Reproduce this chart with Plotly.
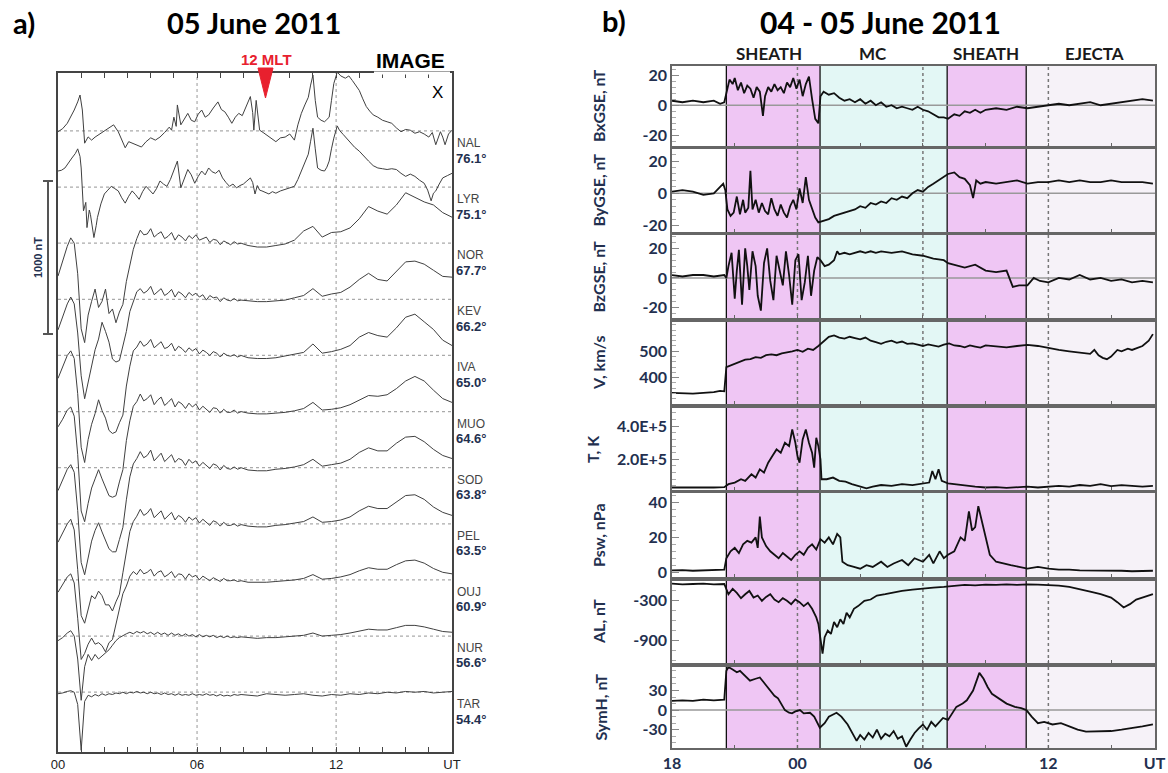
import plotly.graph_objects as go

W, H = 1168, 773
def px(x): return x / W
def py(y): return 1 - y / H

# ---------------- Panel a) data : IMAGE magnetometer X component ----------------
STATIONS = ["NAL", "LYR", "NOR", "KEV", "IVA", "MUO", "SOD", "PEL", "OUJ", "NUR", "TAR"]
LATS = ["76.1°", "75.1°", "67.7°", "66.2°", "65.0°", "64.6°", "63.8°", "63.5°", "60.9°", "56.6°", "54.4°"]
STATION_STEP_NT = 367          # vertical separation between stacked traces (nT)
A_TICKVALS = list(range(18))
A_TICKTEXT = ["00", "", "", "", "", "", "06", "", "", "", "", "", "12", "", "", "", "", "UT"]

NAL = [(0.0,-5),(0.2,15),(0.4,50),(0.55,90),(0.7,137),(0.85,190),(0.95,235),(1.05,137),(1.15,-80),(1.3,-39),
       (1.45,-60),(1.6,-40),(1.8,-20),(2.0,-5),(2.2,20),(2.4,40),(2.6,-5),(2.75,-60),(2.9,-110),(3.05,-70),
       (3.2,-80),(3.4,-95),(3.6,-105),(3.8,-70),(4.0,-45),(4.2,-60),(4.4,-40),(4.6,-10),(4.8,25),(4.9,5),
       (5.0,90),(5.1,30),(5.15,170),(5.3,40),(5.45,80),(5.6,115),(5.75,70),(5.9,60),(6.05,110),(6.2,137),
       (6.35,90),(6.5,105),(6.7,150),(6.9,190),(7.05,140),(7.2,125),(7.35,90),(7.5,50),(7.65,90),(7.8,115),
       (7.95,100),(8.1,150),(8.2,180),(8.3,225),(8.4,120),(8.45,5),(8.55,200),(8.62,120),(8.7,5),(8.85,-10),
       (9.0,-25),(9.2,-50),(9.4,-70),(9.6,-45),(9.8,-40),(10.0,-20),(10.2,-60),(10.35,40),(10.5,115),(10.65,170),
       (10.8,220),(10.9,300),(11.0,365),(11.1,200),(11.2,90),(11.35,70),(11.5,60),(11.6,75),(11.7,90),(11.8,200),
       (11.9,310),(12.05,385),(12.2,360),(12.4,345),(12.55,360),(12.7,330),(12.85,300),(13.0,265),(13.15,210),(13.3,160),
       (13.45,130),(13.6,105),(13.8,90),(14.0,70),(14.2,60),(14.4,50),(14.6,20),(14.8,-5),(15.0,10),(15.2,5),
       (15.4,-15),(15.6,-5),(15.8,-20),(16.0,-40),(16.15,-10),(16.3,-90),(16.5,-5),(16.6,-40),(16.7,-90),(16.85,-20),(17.0,5)]

LYR = [(0.0,105),(0.15,110),(0.3,125),(0.45,160),(0.6,190),(0.75,220),(0.85,250),(0.95,200),(1.0,125),(1.1,-155),
       (1.2,-100),(1.25,-265),(1.35,-150),(1.4,-180),(1.5,-280),(1.55,-330),(1.65,-250),(1.7,-200),(1.85,-110),(2.0,-45),
       (2.15,-20),(2.3,5),(2.45,-10),(2.6,-25),(2.75,-70),(2.9,-105),(3.05,-60),(3.2,-25),(3.35,-50),(3.5,-80),
       (3.65,-30),(3.8,5),(3.95,-20),(4.1,-45),(4.25,-10),(4.4,40),(4.55,20),(4.7,5),(4.85,50),(5.0,105),
       (5.15,170),(5.3,-5),(5.45,60),(5.6,115),(5.75,80),(5.9,25),(6.05,70),(6.2,105),(6.35,80),(6.5,125),
       (6.65,100),(6.8,90),(6.95,110),(7.1,60),(7.25,30),(7.4,5),(7.55,20),(7.7,-5),(7.85,10),(8.0,20),
       (8.15,40),(8.3,60),(8.4,30),(8.5,-45),(8.6,10),(8.7,-20),(8.8,-25),(8.95,-35),(9.1,-45),(9.25,-30),
       (9.4,-40),(9.6,-25),(9.8,-15),(10.0,-5),(10.2,5),(10.35,50),(10.5,105),(10.65,160),(10.8,215),(10.9,300),
       (11.0,385),(11.1,250),(11.2,125),(11.35,110),(11.5,105),(11.6,130),(11.7,170),(11.8,250),(11.9,320),(12.05,400),
       (12.15,370),(12.3,345),(12.45,320),(12.6,290),(12.8,260),(13.0,235),(13.2,200),(13.4,170),(13.6,140),(13.8,125),
       (14.0,120),(14.2,115),(14.4,120),(14.6,115),(14.8,90),(15.0,70),(15.2,85),(15.4,70),(15.6,45),(15.8,25),
       (15.95,-20),(16.1,-90),(16.2,-40),(16.3,-25),(16.45,20),(16.6,60),(16.8,75),(17.0,90)]

# common UT grid (hours) for the lower-latitude stations
G = [0.0,0.2,0.4,0.55,0.7,0.85,1.0,1.15,1.3,1.45,
     1.6,1.75,1.9,2.05,2.2,2.35,2.5,2.65,2.8,2.95,
     3.1,3.25,3.4,3.55,3.7,3.85,4.0,4.15,4.3,4.45,
     4.6,4.75,4.9,5.05,5.2,5.35,5.5,5.65,5.8,5.95,
     6.1,6.25,6.4,6.55,6.7,6.85,7.0,7.15,7.3,7.45,
     7.6,7.75,7.9,8.2,8.6,9.0,9.4,9.8,10.2,10.6,
     11.0,11.4,11.8,12.2,12.6,13.0,13.4,13.8,14.2,14.6,
     15.0,15.4,15.8,16.2,16.6,17.0]

NOR = [-215,-110,-20,35,0,-200,-560,-650,-470,-380,
       -300,-420,-380,-300,-460,-430,-520,-450,-400,-250,
       -150,-40,30,85,55,60,95,40,60,75,
       30,45,70,20,55,40,15,50,30,55,
       20,30,40,5,25,20,-10,15,0,-10,
       10,-5,0,-15,-25,-25,-15,-5,20,80,
       110,40,70,75,100,160,240,210,190,250,
       330,300,270,250,200,170]
KEV = [-200,-110,-30,15,-30,-220,-500,-650,-540,-420,
       -330,-260,-150,-210,-280,-390,-410,-400,-300,-210,
       -80,-20,50,70,40,55,85,30,50,70,
       25,40,65,15,50,35,10,45,25,40,
       15,30,-5,25,10,15,-15,10,-5,-10,
       5,-10,-5,-10,-15,-15,-10,-5,10,25,
       70,20,35,45,80,130,170,130,120,180,
       245,250,230,190,150,145]
IVA = [-150,-80,0,30,-20,-250,-600,-700,-550,-450,
       -380,-290,-360,-410,-490,-510,-500,-440,-390,-200,
       -70,30,55,95,60,75,105,50,70,90,
       45,55,80,30,60,45,20,50,30,45,
       10,35,20,0,25,15,-10,15,0,-5,
       5,-10,0,-15,-20,-20,-15,-5,5,20,
       75,15,25,40,65,120,150,130,120,180,
       250,270,220,170,100,65]
MUO = [-100,-50,10,30,-30,-280,-650,-720,-600,-500,
       -440,-380,-440,-490,-550,-560,-550,-460,-380,-190,
       -60,35,65,115,70,85,110,45,75,95,
       40,60,85,30,65,50,20,55,30,50,
       10,35,15,-5,25,20,-10,15,-5,-5,
       10,-10,0,-10,-15,-15,-10,-5,5,20,
       60,10,15,25,45,75,105,100,110,150,
       200,230,200,140,85,60]
SOD = [-150,-80,-10,20,-30,-280,-620,-700,-600,-480,
       -410,-360,-420,-470,-530,-550,-550,-470,-390,-210,
       -60,25,60,105,65,80,115,45,70,95,
       40,60,85,35,60,50,15,55,30,45,
       10,35,15,-5,25,15,-15,15,-5,-10,
       5,-10,0,-15,-20,-20,-10,-5,5,20,
       55,10,20,30,55,100,130,110,110,160,
       200,205,170,120,80,60]
PEL = [-120,-60,0,30,-40,-300,-600,-650,-560,-470,
       -490,-440,-470,-530,-530,-570,-510,-460,-320,-190,
       -50,15,50,95,55,70,100,40,65,85,
       30,50,75,25,55,40,10,45,25,40,
       5,30,10,-10,20,10,-15,10,-10,-10,
       0,-15,-5,-15,-20,-20,-10,-5,5,15,
       45,10,15,25,45,85,115,100,100,145,
       185,190,160,110,75,55]
OUJ = [-80,-30,20,40,-20,-250,-520,-480,-420,-380,
       -420,-410,-430,-470,-410,-390,-290,-210,-90,-40,
       25,55,35,70,40,50,70,25,50,60,
       20,35,55,15,40,35,5,40,20,30,
       0,25,10,-5,15,5,-10,10,-5,-5,
       0,-10,-5,-15,-15,-15,-10,-5,0,10,
       35,5,10,20,35,60,80,70,70,100,
       125,130,110,75,50,40]
NUR = [-30,-10,20,35,0,-150,-420,-200,-120,-160,
       -120,-150,-130,-110,-90,-60,-30,-10,5,15,
       25,15,30,20,30,15,25,10,25,10,
       20,5,20,5,15,0,15,0,10,-5,
       10,-5,5,-5,5,-10,0,-10,0,-10,
       -5,-10,-5,-10,-15,-10,-10,-5,0,5,
       20,0,5,10,20,35,45,40,40,55,
       70,70,60,45,30,25]
TAR = [-10,-5,5,10,0,-80,-380,-60,-20,-30,
       -15,-25,-10,-20,-10,-15,-5,-10,0,-10,
       0,-5,5,-5,0,-10,0,-10,-5,-15,
       -5,-15,-10,-20,-10,-20,-15,-20,-10,-20,
       -15,-20,-10,-20,-15,-25,-15,-25,-20,-25,
       -15,-20,-15,-20,-25,-10,-15,-20,-15,-10,
       -20,-25,-15,-20,-10,-15,-5,-10,0,-5,
       5,0,5,-5,0,5]

# ---------------- Panel b) data : solar wind & indices, 04-05 June 2011 ----------------
# time in hours from 04 June 00 UT (24 = 05 June 00 UT)
B_TICKVALS = [18, 21, 24, 27, 30, 33, 36, 39, 41.08]
B_TICKTEXT = ["18", "", "00", "", "06", "", "12", "", "UT"]
REGIONS = [("SHEATH", 20.6, 25.08, "#efc6f4"), ("MC", 25.08, 31.16, "#e3f7f5"),
           ("SHEATH", 31.16, 34.94, "#efc6f4"), ("EJECTA", 34.94, 41.1, "#f6f2f8")]
BOUNDARIES = [20.6, 25.08, 31.16, 34.94]
DOTTED_HOURS = [24, 30, 36]

BX = [(18.0,3),(18.5,2),(19.0,3),(19.5,2),(20.0,3),(20.3,1),(20.5,2),(20.6,9),(20.75,17),(20.9,14),(21.0,18),(21.15,10),
      (21.3,15),(21.45,8),(21.6,13),(21.75,11),(21.9,5),(22.05,12),(22.2,9),(22.35,-7),(22.45,6),(22.6,12),(22.75,9),
      (22.9,14),(23.05,10),(23.2,12),(23.35,8),(23.5,15),(23.65,12),(23.8,18),(23.95,11),(24.1,17),(24.25,6),(24.4,14),
      (24.55,19),(24.7,4),(24.85,-9),(25.0,-12),(25.1,6),(25.25,9),(25.5,7),(25.75,8),(26.0,5),(26.25,3),(26.5,4),
      (26.75,2),(27.0,4),(27.25,1),(27.5,3),(27.75,0),(28.0,2),(28.25,-1),(28.5,0),(28.75,-2),(29.0,-1),(29.25,-2),
      (29.5,-3),(29.75,-1),(30.0,-3),(30.25,-4),(30.5,-6),(30.75,-8),(31.0,-8),(31.2,-9),(31.5,-6),(31.75,-7),(32.0,-4),
      (32.25,-5),(32.5,-3),(32.75,-5),(33.0,-3),(33.5,-2),(34.0,-3),(34.5,-1),(35.0,-2),(35.5,-1),(36.0,0),(36.5,1),
      (37.0,0),(37.5,1),(38.0,2),(38.5,0),(39.0,1),(39.5,2),(40.0,3),(40.5,4),(41.0,3)]
BY = [(18.0,1),(18.5,2),(19.0,1),(19.5,-1),(20.0,0),(20.3,4),(20.45,6),(20.55,2),(20.65,-10),(20.8,-14),(20.95,-12),
      (21.1,-2),(21.25,-13),(21.4,-4),(21.5,-12),(21.65,-9),(21.75,14),(21.85,-10),(22.0,-4),(22.15,-12),(22.3,-6),
      (22.45,-11),(22.6,-13),(22.75,-3),(22.9,-10),(23.05,-14),(23.2,-7),(23.35,-12),(23.5,-15),(23.65,-8),(23.8,-4),
      (23.95,-10),(24.1,3),(24.25,-6),(24.4,10),(24.55,-4),(24.7,-9),(24.85,-15),(25.0,-18),(25.2,-17),(25.5,-16),
      (25.75,-14),(26.0,-13),(26.25,-12),(26.5,-11),(26.75,-10),(27.0,-8),(27.25,-9),(27.5,-6),(27.75,-7),(28.0,-5),
      (28.25,-6),(28.5,-3),(28.75,-4),(29.0,-2),(29.25,-3),(29.5,0),(29.75,2),(30.0,1),(30.25,4),(30.5,6),(30.75,8),
      (31.0,10),(31.2,12),(31.5,13),(31.75,10),(32.0,9),(32.25,5),(32.4,-3),(32.55,8),(32.75,6),(33.0,7),(33.5,6),
      (34.0,7),(34.5,8),(35.0,6),(35.5,7),(36.0,7),(36.5,8),(37.0,7),(37.5,8),(38.0,7),(38.5,7),(39.0,8),(39.5,7),
      (40.0,7),(40.5,7),(41.0,6)]
BZ = [(18.0,2),(18.5,1),(19.0,2),(19.5,2),(20.0,1),(20.5,2),(20.6,0),(20.7,8),(20.85,17),(21.0,-14),(21.1,5),(21.2,19),
      (21.35,-18),(21.5,20),(21.6,8),(21.7,-8),(21.85,18),(22.0,8),(22.1,-12),(22.25,-22),(22.4,10),(22.55,20),(22.7,-2),
      (22.85,-15),(23.0,15),(23.15,5),(23.3,-5),(23.45,18),(23.6,2),(23.75,-18),(23.9,12),(24.05,16),(24.2,-15),
      (24.35,-3),(24.5,15),(24.65,-12),(24.8,5),(24.95,14),(25.1,12),(25.3,8),(25.5,9),(25.75,12),(25.9,18),(26.0,16),
      (26.25,17),(26.5,16),(26.75,17),(27.0,18),(27.25,17),(27.5,18),(27.75,17),(28.0,18),(28.5,17),(29.0,18),(29.5,16),
      (30.0,15),(30.5,13),(31.0,12),(31.2,10),(31.5,9),(32.0,7),(32.5,9),(33.0,5),(33.5,4),(34.0,5),(34.3,-6),(34.6,-5),
      (35.0,-5),(35.3,0),(35.6,-2),(36.0,-3),(36.5,0),(37.0,-1),(37.5,2),(38.0,-1),(38.5,0),(39.0,-2),(39.5,-1),
      (40.0,-3),(40.5,-2),(41.0,-3)]
VSW = [(18.0,342),(18.5,340),(19.0,339),(19.5,342),(20.0,345),(20.3,350),(20.5,348),(20.6,440),(20.75,445),(21.0,452),
       (21.25,460),(21.5,468),(21.75,470),(22.0,478),(22.25,475),(22.5,485),(22.75,488),(23.0,485),(23.25,492),(23.5,495),
       (23.75,500),(24.0,505),(24.25,498),(24.5,510),(24.75,505),(25.0,520),(25.2,535),(25.5,555),(25.75,560),(26.0,552),
       (26.25,548),(26.5,555),(26.75,550),(27.0,545),(27.25,552),(27.5,540),(27.75,535),(28.0,528),(28.25,536),(28.5,540),
       (28.75,532),(29.0,537),(29.25,528),(29.5,530),(29.75,525),(30.0,520),(30.25,526),(30.5,522),(30.75,518),(31.0,525),
       (31.25,530),(31.5,522),(31.75,520),(32.0,515),(32.25,522),(32.5,518),(32.75,514),(33.0,522),(33.5,518),(34.0,515),
       (34.5,520),(35.0,524),(35.5,520),(36.0,512),(36.5,505),(37.0,500),(37.5,495),(38.0,490),(38.2,505),(38.4,485),
       (38.6,475),(38.8,470),(39.0,480),(39.3,505),(39.5,500),(39.8,510),(40.0,505),(40.3,515),(40.5,520),(40.8,540),(41.0,565)]
TEMP = [(18.0,30000),(19.0,28000),(20.0,30000),(20.5,32000),(20.7,50000),(21.0,60000),(21.3,80000),(21.5,70000),
        (21.8,110000),(22.0,90000),(22.2,140000),(22.4,120000),(22.6,180000),(22.8,220000),(23.0,260000),(23.2,240000),
        (23.4,300000),(23.6,280000),(23.75,380000),(23.9,300000),(24.0,220000),(24.1,180000),(24.25,320000),(24.4,380000),
        (24.55,300000),(24.7,240000),(24.8,150000),(24.9,330000),(25.0,280000),(25.1,200000),(25.15,80000),(25.4,80000),
        (25.7,90000),(26.0,70000),(26.3,65000),(26.6,50000),(27.0,35000),(27.3,25000),(27.6,35000),(28.0,45000),
        (28.5,40000),(29.0,50000),(29.5,45000),(30.0,55000),(30.3,60000),(30.45,130000),(30.6,80000),(30.75,140000),
        (30.9,70000),(31.2,55000),(31.5,50000),(32.0,40000),(32.5,35000),(33.0,30000),(33.5,32000),(34.0,28000),
        (34.5,30000),(35.0,35000),(35.5,30000),(36.0,35000),(36.5,40000),(37.0,35000),(37.5,45000),(38.0,40000),
        (38.5,50000),(39.0,38000),(39.5,45000),(40.0,40000),(40.5,35000),(41.0,40000)]
PSW = [(18.0,1.0),(18.5,1.2),(19.0,0.8),(19.5,1.0),(20.0,1.2),(20.5,1.5),(20.6,8),(20.8,12),(21.0,14),(21.2,11),
       (21.4,16),(21.6,18),(21.8,17),(22.0,20),(22.1,14),(22.2,32),(22.3,20),(22.5,15),(22.7,12),(22.9,10),(23.1,8),
       (23.3,11),(23.5,9),(23.7,7),(23.9,10),(24.1,12),(24.3,10),(24.5,14),(24.7,16),(24.9,13),(25.1,19),(25.3,17),
       (25.5,20),(25.7,16),(25.9,22),(26.05,20),(26.15,6),(26.4,4),(26.7,3),(27.0,2),(27.3,4),(27.6,3),(28.0,6),
       (28.3,3),(28.6,5),(29.0,7),(29.3,4),(29.6,8),(30.0,6),(30.3,10),(30.5,5),(30.8,12),(31.0,8),(31.2,10),(31.5,12),
       (31.8,20),(32.0,18),(32.2,35),(32.35,24),(32.5,26),(32.65,38),(32.8,30),(33.0,20),(33.2,10),(33.5,6),(33.8,5),
       (34.2,4),(34.6,3),(35.0,2),(35.5,3),(36.0,2),(36.5,1.5),(37.0,1.5),(37.5,1),(38.0,1),(38.5,0.8),(39.0,0.6),
       (39.5,0.8),(40.0,0.5),(40.5,0.6),(41.0,0.8)]
AL = [(18.0,-40),(18.5,-50),(19.0,-45),(19.5,-40),(20.0,-50),(20.5,-45),(20.7,-200),(20.9,-120),(21.1,-180),(21.3,-260),
      (21.5,-200),(21.7,-150),(21.9,-250),(22.1,-220),(22.3,-300),(22.5,-240),(22.7,-200),(22.9,-280),(23.1,-320),
      (23.3,-260),(23.5,-300),(23.7,-350),(23.9,-280),(24.1,-320),(24.3,-380),(24.5,-330),(24.7,-420),(24.9,-550),
      (25.0,-650),(25.1,-900),(25.2,-1100),(25.3,-850),(25.45,-750),(25.6,-800),(25.75,-620),(25.9,-700),(26.05,-580),
      (26.2,-650),(26.35,-480),(26.5,-550),(26.7,-420),(26.9,-380),(27.2,-300),(27.5,-280),(27.8,-220),(28.2,-200),
      (28.6,-170),(29.0,-150),(29.5,-130),(30.0,-110),(30.5,-100),(31.0,-90),(31.5,-70),(32.0,-60),(32.5,-65),(33.0,-55),
      (33.5,-60),(34.0,-50),(34.5,-60),(35.0,-50),(35.5,-55),(36.0,-60),(36.5,-70),(37.0,-90),(37.5,-120),(38.0,-160),
      (38.5,-200),(39.0,-250),(39.3,-320),(39.6,-400),(39.9,-350),(40.2,-280),(40.6,-240),(41.0,-200)]
SYMH = [(18.0,14),(18.5,15),(19.0,14),(19.5,16),(20.0,15),(20.5,16),(20.6,60),(20.7,66),(20.9,62),(21.1,58),(21.25,60),
        (21.5,52),(21.73,45),(22.0,48),(22.2,50),(22.45,40),(22.7,30),(22.9,22),(23.07,18),(23.25,8),(23.4,0),(23.6,-4),
        (23.74,-5),(23.9,-2),(24.12,0),(24.3,-5),(24.6,-4),(24.8,-10),(25.07,-27),(25.3,-20),(25.5,-10),(25.87,-4),
        (26.1,-10),(26.4,-22),(26.83,-47),(27.0,-38),(27.2,-45),(27.4,-35),(27.6,-42),(27.8,-30),(28.0,-44),(28.2,-36),
        (28.4,-40),(28.6,-32),(28.8,-44),(29.0,-40),(29.2,-56),(29.4,-45),(29.6,-35),(29.8,-28),(30.0,-22),(30.2,-30),
        (30.4,-18),(30.6,-25),(30.96,-12),(31.2,-15),(31.6,5),(31.9,10),(32.1,15),(32.4,30),(32.7,57),(32.9,48),(33.1,35),
        (33.3,25),(33.6,18),(34.0,10),(34.4,5),(34.7,3),(34.95,0),(35.2,-10),(35.5,-20),(35.8,-18),(36.2,-22),(36.6,-20),
        (37.0,-25),(37.4,-30),(37.8,-33),(38.2,-33),(38.6,-33),(39.0,-32),(39.5,-30),(40.0,-28),(40.5,-25),(41.0,-22)]

PANELS_B = [
    ("BxGSE, nT", BX,   [-27, 26],        [20, 0, -20],   ["20", "0", "-20"],        4,     True),
    ("ByGSE, nT", BY,   [-24, 27.5],      [20, 0, -20],   ["20", "0", "-20"],        4,     True),
    ("BzGSE, nT", BZ,   [-27, 29],        [20, 0, -20],   ["20", "0", "-20"],        4,     True),
    ("V, km/s",   VSW,  [300, 611],       [400, 500],     ["400", "500"],            20,    False),
    ("T, K",      TEMP, [15000, 510000],  [200000, 400000], ["2.0E+5", "4.0E+5"],    40000, False),
    ("Psw, nPa",  PSW,  [-2.8, 45.6],     [0, 20, 40],    ["0", "20", "40"],         4,     False),
    ("AL, nT",    AL,   [-1240, 0],       [-300, -900],   ["-300", "-900"],          150,   False),
    ("SymH, nT",  SYMH, [-58, 66],        [30, 0, -30],   ["30", "0", "-30"],        10,    True),
]
# pixel boxes of the 8 stacked plots (top, bottom)
BOXES = [(66, 146), (149, 232), (235, 318), (322, 404), (408, 490), (493, 577), (581, 663), (667, 748)]
TITLE_X = [598, 598, 598, 598, 592, 598, 598, 600]

NAVY = "#23304f"
fig = go.Figure()

# ---------- panel a traces ----------
series_a = {"NAL": ([p[0] for p in NAL], [p[1] for p in NAL]),
            "LYR": ([p[0] for p in LYR], [p[1] for p in LYR])}
for name, vals in zip(["NOR", "KEV", "IVA", "MUO", "SOD", "PEL", "OUJ", "NUR", "TAR"],
                      [NOR, KEV, IVA, MUO, SOD, PEL, OUJ, NUR, TAR]):
    series_a[name] = (G, vals)
for i, name in enumerate(STATIONS):
    t, v = series_a[name]
    fig.add_trace(go.Scatter(x=t, y=[val - i * STATION_STEP_NT for val in v], mode="lines",
                             line=dict(color="#404040", width=1), xaxis="x", yaxis="y",
                             showlegend=False, hoverinfo="skip"))

# ---------- panel b traces ----------
for k, (title, data, rng, tv, tt, mdt, zero) in enumerate(PANELS_B):
    fig.add_trace(go.Scatter(x=[p[0] for p in data], y=[p[1] for p in data], mode="lines",
                             line=dict(color="#111111", width=1.8),
                             xaxis="x%d" % (k + 2), yaxis="y%d" % (k + 2),
                             showlegend=False, hoverinfo="skip"))

layout = dict(width=W, height=H, autosize=False, margin=dict(l=0, r=0, t=0, b=0, pad=0),
              paper_bgcolor="white", plot_bgcolor="rgba(0,0,0,0)", showlegend=False)

layout["xaxis"] = dict(domain=[px(58), px(452)], range=[0, 17], anchor="y", automargin=False,
                       showline=True, linecolor="#444", linewidth=1.5, mirror="ticks",
                       ticks="inside", ticklen=5, tickcolor="#444", tickwidth=1.2,
                       tickvals=A_TICKVALS, ticktext=A_TICKTEXT,
                       tickfont=dict(family="Liberation Sans, Arial", size=13, color="#222"),
                       showgrid=False, zeroline=False)
layout["yaxis"] = dict(domain=[py(752), py(73)], range=[-4061, 379], anchor="x", automargin=False,
                       showline=True, linecolor="#444", linewidth=1.5, mirror=True,
                       showticklabels=False, ticks="", showgrid=False, zeroline=False)

for k, (title, data, rng, tv, tt, mdt, zero) in enumerate(PANELS_B):
    top, bot = BOXES[k]
    xa = dict(domain=[px(672), px(1155)], range=[18, 41.1], anchor="y%d" % (k + 2), automargin=False,
              showline=True, linecolor="#666", linewidth=1.5, mirror=True,
              ticks="inside", ticklen=3, tickcolor="#666",
              tickvals=B_TICKVALS, ticktext=B_TICKTEXT, showgrid=False, zeroline=False,
              showticklabels=(k == 7),
              tickfont=dict(family="Lato", size=16, color=NAVY, weight="bold"))
    if k > 0:
        xa["matches"] = "x2"
    layout["xaxis%d" % (k + 2)] = xa
    layout["yaxis%d" % (k + 2)] = dict(domain=[py(bot), py(top)], range=rng, anchor="x%d" % (k + 2),
                                       automargin=False,
                                       showline=True, linecolor="#666", linewidth=1.5, mirror=True,
                                       tickvals=tv, ticktext=tt, ticks="inside", ticklen=7,
                                       tickcolor="#888", tickwidth=1.2,
                                       minor=dict(dtick=mdt, tick0=0, ticks="inside", ticklen=4,
                                                  tickcolor="#aaa"),
                                       tickfont=dict(family="Lato", size=16, color=NAVY, weight="bold"),
                                       showgrid=False, zeroline=False)
fig.update_layout(**layout)

shapes = []
# panel a: dotted baselines & verticals
for i in range(len(STATIONS)):
    shapes.append(dict(type="line", xref="x", yref="y", x0=0, x1=17,
                       y0=-i * STATION_STEP_NT, y1=-i * STATION_STEP_NT,
                       line=dict(color="#aaa", width=1.2, dash="dot"), layer="below"))
for hv in [6, 12]:
    shapes.append(dict(type="line", xref="x", yref="paper", x0=hv, x1=hv, y0=py(752), y1=py(73),
                       line=dict(color="#aaa", width=1.2, dash="dot"), layer="below"))
# break in the top frame under the IMAGE label
shapes.append(dict(type="line", xref="paper", yref="paper", x0=px(374), x1=px(450), y0=py(73), y1=py(73),
                   line=dict(color="white", width=3), layer="above"))
# 12 MLT red marker
shapes.append(dict(type="path", xref="paper", yref="paper",
                   path="M %f,%f L %f,%f L %f,%f Z" % (px(258), py(68), px(273), py(68), px(265.5), py(98)),
                   fillcolor="#e8202e", line=dict(color="#e8202e", width=1), layer="above"))
# 1000 nT scale bar
for (x0, y0, x1, y1) in [(48, 181, 48, 334), (43, 181, 53, 181), (43, 334, 53, 334)]:
    shapes.append(dict(type="line", xref="paper", yref="paper", x0=px(x0), x1=px(x1), y0=py(y0), y1=py(y1),
                       line=dict(color="#555", width=2)))

# panel b: region shading, boundaries, dotted hours, zero lines
for (lab, a, b, col) in REGIONS:
    shapes.append(dict(type="rect", xref="x2", yref="paper", x0=a, x1=b, y0=py(748), y1=py(66),
                       fillcolor=col, line=dict(width=0), layer="below"))
for hv in DOTTED_HOURS:
    shapes.append(dict(type="line", xref="x2", yref="paper", x0=hv, x1=hv, y0=py(748), y1=py(66),
                       line=dict(color="#777", width=1.5, dash="dot"), layer="below"))
for hv in BOUNDARIES:
    shapes.append(dict(type="line", xref="x2", yref="paper", x0=hv, x1=hv, y0=py(748), y1=py(66),
                       line=dict(color="#111", width=1.3), layer="below"))
for k, (title, data, rng, tv, tt, mdt, zero) in enumerate(PANELS_B):
    if zero:
        shapes.append(dict(type="line", xref="paper", yref="y%d" % (k + 2), x0=px(672), x1=px(1155), y0=0, y1=0,
                           line=dict(color="#999", width=1.5), layer="below"))
fig.update_layout(shapes=shapes)

ann = []
def text(x, y, s, size, color="#000", family="Lato", bold=True, angle=0, xanchor="center"):
    ann.append(dict(x=px(x), y=py(y), xref="paper", yref="paper", text=s, showarrow=False,
                    xanchor=xanchor, yanchor="middle", textangle=angle,
                    font=dict(family=family, size=size, color=color, weight="bold" if bold else "normal")))

text(24, 22, "a)", 29)
text(254, 22, "05 June 2011", 29)
text(614, 20, "b)", 29)
text(880, 22, "04 - 05 June 2011", 30)
text(266, 59, "12 MLT", 15, color="#e8202e", family="Liberation Sans, Arial")
text(410, 61, "IMAGE", 21, family="Liberation Sans, Arial")
text(437, 92, "X", 17, family="Liberation Sans, Arial", bold=False)
text(38, 258, "1000 nT", 11, color=NAVY, family="Liberation Sans, Arial", angle=-90)
for i, (nm, lat) in enumerate(zip(STATIONS, LATS)):
    base = 131 + i * 56.1
    text(455, base + 12, nm, 12, color="#444", family="Liberation Sans, Arial", bold=False, xanchor="left")
    text(454, base + 27, lat, 13, color=NAVY, family="Liberation Sans, Arial", xanchor="left")
for lab, xc in zip([r[0] for r in REGIONS], [769, 873, 986, 1094]):
    text(xc, 53, lab, 17, color="#1a1a1a")
for k, (title, data, rng, tv, tt, mdt, zero) in enumerate(PANELS_B):
    top, bot = BOXES[k]
    text(TITLE_X[k], (top + bot) / 2, title, 16, color=NAVY, angle=-90)
fig.update_layout(annotations=ann)

fig.write_html("out.html",
               config={"displayModeBar": False},
               post_script="document.body.style.margin='0';document.body.style.padding='0';"
                           "document.body.style.overflow='hidden';")
